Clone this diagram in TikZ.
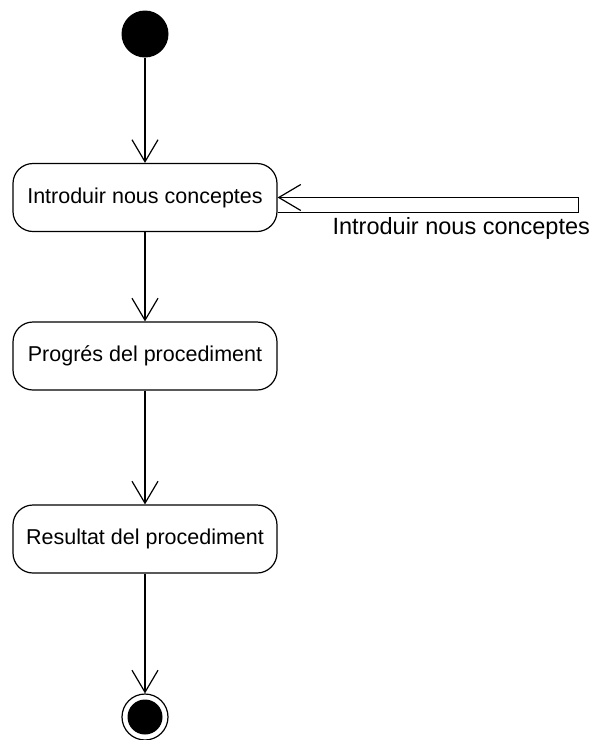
\documentclass[tikz,border=0pt]{standalone}
\usepackage{fontspec}
\setmainfont{Liberation Sans}
\usetikzlibrary{arrows.meta,positioning}
\tikzstyle{activity} = [draw, rounded corners=20pt, minimum width=264pt, minimum height=68pt, font=\fontsize{21.5}{24}\selectfont]
\tikzstyle{startdot} = [circle, fill=black, minimum size=47pt, inner sep=0pt]
\tikzstyle{enddot} = [circle, draw, fill=white, minimum size=46pt, inner sep=0pt,
    path picture={\fill[black] (path picture bounding box.center) circle (17.5pt);}]

\begin{document}
\begin{tikzpicture}[
            x = 1pt, y = -1pt, % pixel grid of the picture
            > = {Straight Barb[length=22pt, width=26pt]}, % open arrow head
            line width = 1.2pt
        ]

        \useasboundingbox (0,0) rectangle (595,740);

        \node[startdot] (start) at (145,34) {};
        \node[activity] (intro) at (145,197.5) {Introduir nous conceptes};
        \node[activity] (progres) at (145,356) {Progrés del procediment};
        \node[activity] (result) at (145,539) {Resultat del procediment};
        \node[enddot] (end) at (145,717) {};

        \draw[->] (start) -- (intro);
        \draw[->] (intro) -- (progres);
        \draw[->] (progres) -- (result);
        \draw[->] (result) -- (end);

        % self transition
        \draw[->] ([yshift=-15pt]intro.east) -- ++(301,0) |- (intro.east);
        \node[anchor=base west, font=\fontsize{23.5}{26}\selectfont, inner sep=0pt] (looplabel) at (332,234) {Introduir nous conceptes};

    \end{tikzpicture}
\end{document}
